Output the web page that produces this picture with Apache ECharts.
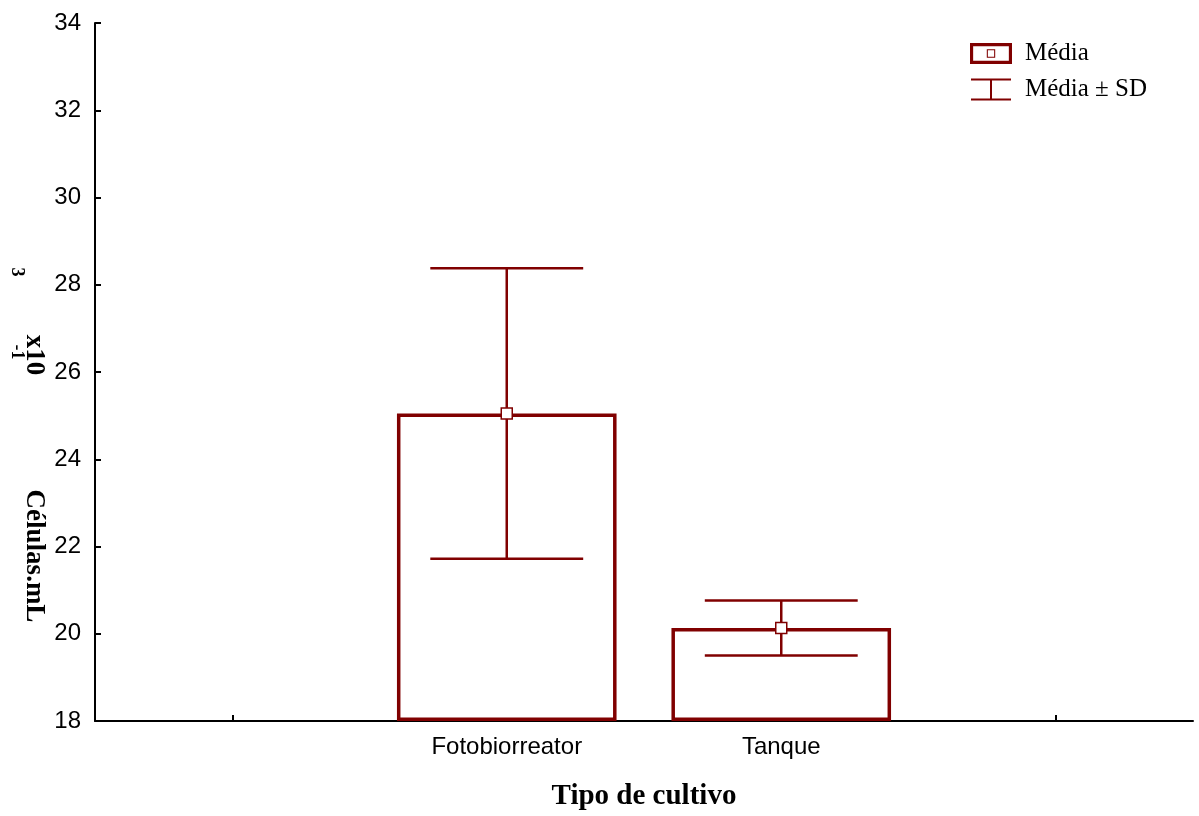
<!DOCTYPE html>
<html>
<head>
<meta charset="utf-8">
<script src="https://cdn.jsdelivr.net/npm/echarts@6/dist/echarts.min.js"></script>
<style>html,body{margin:0;padding:0;background:#fff;}#c{width:1199px;height:816px;}</style>
</head>
<body>
<div id="c"></div>
<script>
// Data
var categories = ['', 'Fotobiorreator', 'Tanque', ''];
var means = [null, 25.05, 20.13, null];
var sds = [null, 3.33, 0.63, null];
var yMin = 18, yMax = 34, yStep = 2;
var legendNames = ['Média', 'Média ± SD'];

var RED = '#800000';
var errData = [];
for (var i = 0; i < categories.length; i++) {
  if (means[i] != null) errData.push([i, means[i] - sds[i], means[i] + sds[i]]);
}

var chart = echarts.init(document.getElementById('c'));
chart.setOption({
  animation: false,
  backgroundColor: '#fff',
  grid: {left: 95, right: 6, top: 23, bottom: 95, containLabel: false},
  legend: {
    orient: 'vertical', left: 965, top: 36,
    itemWidth: 42, itemHeight: 22, itemGap: 11,
    textStyle: {fontFamily: 'Liberation Serif', fontSize: 25, color: '#000', padding: [0, 0, 0, 8]},
    selectedMode: false,
    data: [
      {name: legendNames[0], icon: 'path://M0 0L40 0L40 20L0 20Z M3 3L3 17L37 17L37 3Z M16 6L24 6L24 14L16 14Z M17 7L17 13L23 13L23 7Z', itemStyle: {color: RED, borderWidth: 0}},
      {name: legendNames[1], icon: 'path://M0 0L40 0L40 2L0 2Z M19 2L21 2L21 20L19 20Z M0 20L40 20L40 22L0 22Z', itemStyle: {color: RED, borderWidth: 0}}
    ]
  },
  xAxis: {
    type: 'category', data: categories, boundaryGap: true,
    axisLine: {lineStyle: {color: '#000', width: 2}},
    axisTick: {show: true, inside: true, alignWithLabel: true, length: 6, lineStyle: {color: '#000', width: 2}},
    axisLabel: {interval: 0, fontFamily: 'Liberation Sans', fontSize: 24, color: '#000', margin: 14},
    splitLine: {show: false},
    name: 'Tipo de cultivo', nameLocation: 'middle', nameGap: 61,
    nameTextStyle: {fontFamily: 'Liberation Serif', fontWeight: 'bold', fontSize: 29, color: '#000'}
  },
  yAxis: {
    type: 'value', min: yMin, max: yMax, interval: yStep, startValue: yMin,
    axisLine: {show: true, lineStyle: {color: '#000', width: 2}},
    axisTick: {show: true, inside: true, length: 6, lineStyle: {color: '#000', width: 2}},
    axisLabel: {fontFamily: 'Liberation Sans', fontSize: 24, color: '#000', margin: 14},
    splitLine: {show: false}
  },
  graphic: [
    {type: 'text', x: 34, y: 556, rotation: -Math.PI / 2, silent: true,
     style: {text: 'Células.mL', x: 0, y: 0, align: 'center', verticalAlign: 'middle', font: 'bold 27px "Liberation Serif"', fill: '#000'}},
    {type: 'text', x: 34, y: 355, rotation: -Math.PI / 2, silent: true,
     style: {text: 'x10', x: 0, y: 0, align: 'center', verticalAlign: 'middle', font: 'bold 27px "Liberation Serif"', fill: '#000'}},
    {type: 'text', x: 17, y: 352, rotation: -Math.PI / 2, silent: true,
     style: {text: '-1', x: 0, y: 0, align: 'center', verticalAlign: 'middle', font: 'bold 18px "Liberation Serif"', fill: '#000'}},
    {type: 'text', x: 17, y: 272, rotation: -Math.PI / 2, silent: true,
     style: {text: '3', x: 0, y: 0, align: 'center', verticalAlign: 'middle', font: 'bold 18px "Liberation Serif"', fill: '#000'}}
  ],
  series: [
    {
      name: legendNames[0], type: 'bar', data: means, barWidth: '80%',
      itemStyle: {color: '#fff', borderColor: RED, borderWidth: 3.5},
      z: 1
    },
    {
      name: legendNames[0], type: 'scatter', data: means, symbol: 'rect', symbolSize: 11,
      itemStyle: {color: '#fff', borderColor: RED, borderWidth: 1.5, opacity: 1},
      z: 5
    },
    {
      name: legendNames[1], type: 'custom', data: errData,
      encode: {x: 0, y: [1, 2]},
      z: 3,
      renderItem: function (params, api) {
        var lo = api.coord([api.value(0), api.value(1)]);
        var hi = api.coord([api.value(0), api.value(2)]);
        var half = api.size([1, 0])[0] * 0.557 / 2;
        var st = {stroke: RED, lineWidth: 2.5};
        return {type: 'group', children: [
          {type: 'line', shape: {x1: lo[0], y1: lo[1], x2: hi[0], y2: hi[1]}, style: st},
          {type: 'line', shape: {x1: hi[0] - half, y1: hi[1], x2: hi[0] + half, y2: hi[1]}, style: st},
          {type: 'line', shape: {x1: lo[0] - half, y1: lo[1], x2: lo[0] + half, y2: lo[1]}, style: st}
        ]};
      }
    }
  ]
});
</script>
</body>
</html>
